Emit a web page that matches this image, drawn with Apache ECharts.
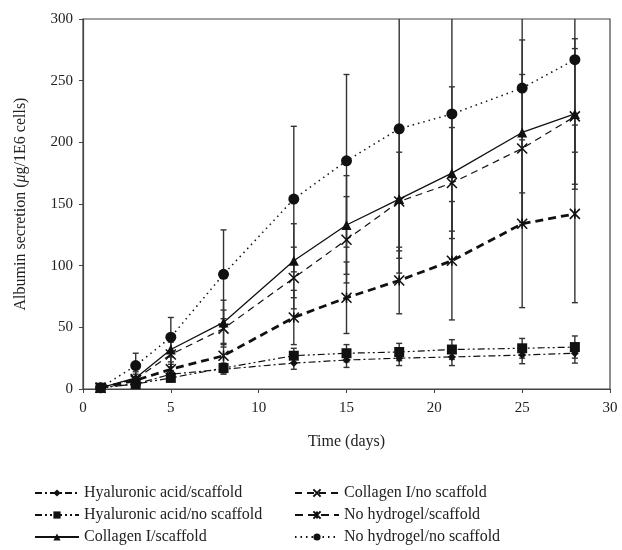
<!DOCTYPE html>
<html>
<head>
<meta charset="utf-8">
<script src="https://cdn.jsdelivr.net/npm/echarts@6.0.0/dist/echarts.min.js"></script>
<style>
  html, body { margin: 0; padding: 0; background: #fff; }
  #chart { width: 622px; height: 550px; }
</style>
</head>
<body>
<div id="chart"></div>
<script>
// days sampled
const days = [1, 3, 5, 8, 12, 15, 18, 21, 25, 28];

// albumin secretion (µg/1E6 cells)
const haScaffold      = [1, 4, 12, 16, 21, 23.5, 25, 26, 27.5, 29];
const haNoScaffold    = [1, 4, 9, 17, 27, 29, 30, 32, 33, 34];
const colScaffold     = [1, 9, 32, 54, 104, 133, 154, 175, 208, 223];
const colNoScaffold   = [1, 8, 28, 49, 90, 121, 152, 167, 195, 221];
const noHydScaffold   = [1, 7, 16, 27, 58, 74, 88, 104, 134, 142];
const noHydNoScaffold = [1, 19, 42, 93, 154, 185, 211, 223, 244, 267];

// error bar half-widths (estimated)
const haScaffoldErr      = [1, 2, 3, 4, 5, 6, 6, 7, 7, 8];
const haNoScaffoldErr    = [1, 2, 3, 4, 6, 7, 7, 8, 8, 9];
const colScaffoldErr     = [1, 5, 12, 18, 30, 40, 60, 70, 75, 61];
const colNoScaffoldErr   = [1, 4, 10, 15, 25, 35, 40, 45, 60, 55];
const noHydScaffoldErr   = [1, 3, 6, 10, 22, 29, 27, 48, 68, 72];
const noHydNoScaffoldErr = [1, 10, 16, 36, 59, 70, 105, 95, 85, 75];

const xTicks = [0, 5, 10, 15, 20, 25, 30];

const FONT = 'Liberation Serif';
const INK = '#111';

const xSym = 'path://M0,0L10,10M10,0L0,10';
const starSym = 'path://M0,0L10,10M10,0L0,10M5,0L5,10';

const seriesDefs = [
  { name: 'Hyaluronic acid/scaffold', y: haScaffold, err: haScaffoldErr,
    symbol: 'diamond', size: 8, dash: [7, 3, 2, 3], width: 1.2 },
  { name: 'Hyaluronic acid/no scaffold', y: haNoScaffold, err: haNoScaffoldErr,
    symbol: 'rect', size: 10, dash: [7, 3, 2, 3, 2, 3], width: 1.2 },
  { name: 'Collagen I/scaffold', y: colScaffold, err: colScaffoldErr,
    symbol: 'triangle', size: 10, dash: 'solid', width: 1.3 },
  { name: 'Collagen I/no scaffold', y: colNoScaffold, err: colNoScaffoldErr,
    symbol: xSym, size: 10, dash: [7, 5], width: 1.2, stroke: true },
  { name: 'No hydrogel/scaffold', y: noHydScaffold, err: noHydScaffoldErr,
    symbol: starSym, size: 10, dash: [8, 5], width: 2.8, stroke: true },
  { name: 'No hydrogel/no scaffold', y: noHydNoScaffold, err: noHydNoScaffoldErr,
    symbol: 'circle', size: 11, dash: [1.5, 4], width: 1.5 }
];

function renderErr(params, api) {
  const x = api.value(0);
  const top = api.coord([x, api.value(2)]);
  const bot = api.coord([x, api.value(1)]);
  const w = 3;
  const st = { stroke: '#333', lineWidth: 1.4 };
  return {
    type: 'group',
    children: [
      { type: 'line', shape: { x1: top[0], y1: top[1], x2: bot[0], y2: bot[1] }, style: st },
      { type: 'line', shape: { x1: top[0] - w, y1: top[1], x2: top[0] + w, y2: top[1] }, style: st },
      { type: 'line', shape: { x1: bot[0] - w, y1: bot[1], x2: bot[0] + w, y2: bot[1] }, style: st }
    ]
  };
}

const series = [];
seriesDefs.forEach(d => {
  series.push({
    type: 'custom',
    renderItem: renderErr,
    clip: true,
    silent: true,
    z: 1,
    encode: { x: 0, y: [1, 2] },
    data: days.map((x, i) => [x, d.y[i] - d.err[i], d.y[i] + d.err[i]])
  });
});
seriesDefs.forEach(d => {
  series.push({
    name: d.name,
    type: 'line',
    z: 3,
    data: days.map((x, i) => [x, d.y[i]]),
    symbol: d.symbol,
    symbolSize: d.size,
    showAllSymbol: true,
    lineStyle: { color: INK, width: d.width, type: d.dash },
    itemStyle: d.stroke
      ? { color: 'rgba(0,0,0,0)', borderColor: INK, borderWidth: 1.6 }
      : { color: INK, borderColor: INK, borderWidth: 0 },
    emphasis: { disabled: true }
  });
});

const legendCommon = {
  orient: 'vertical',
  padding: 0,
  height: 70,
  itemWidth: 44,
  itemHeight: 9,
  itemGap: 6,
  textStyle: { fontFamily: FONT, fontSize: 16, color: '#222' }
};

const chart = echarts.init(document.getElementById('chart'), null, { renderer: 'canvas' });
chart.setOption({
  animation: false,
  backgroundColor: '#fff',
  grid: { left: 83, right: 12, top: 19, bottom: 161, show: true, borderColor: '#444', borderWidth: 1.2 },
  legend: [
    Object.assign({ left: 34, top: 485, data: seriesDefs.slice(0, 3).map(d => d.name) }, legendCommon),
    Object.assign({ left: 294, top: 485, data: seriesDefs.slice(3).map(d => d.name) }, legendCommon)
  ],
  xAxis: {
    type: 'value',
    min: xTicks[0],
    max: xTicks[xTicks.length - 1],
    interval: 5,
    name: 'Time (days)',
    nameLocation: 'middle',
    nameGap: 45,
    nameTextStyle: { fontFamily: FONT, fontSize: 16, color: '#222' },
    axisLine: { show: true, lineStyle: { color: '#444', width: 1.2 } },
    axisTick: { show: true, length: 4, lineStyle: { color: '#444' } },
    axisLabel: { fontFamily: FONT, fontSize: 15, color: '#222', margin: 12 },
    splitLine: { show: false }
  },
  yAxis: {
    type: 'value',
    min: 0,
    max: 300,
    interval: 50,
    name: '{a|Albumin secretion (}{i|μ}{a|g/1E6 cells)}',
    nameLocation: 'middle',
    nameGap: 54,
    nameRotate: 90,
    nameTextStyle: {
      fontFamily: FONT, fontSize: 16, color: '#222',
      rich: {
        a: { fontFamily: FONT, fontSize: 16, color: '#222' },
        i: { fontFamily: FONT, fontSize: 16, color: '#222', fontStyle: 'italic' }
      }
    },
    axisLine: { show: true, lineStyle: { color: '#444', width: 1.2 } },
    axisTick: { show: true, length: 4, lineStyle: { color: '#444' } },
    axisLabel: { fontFamily: FONT, fontSize: 15, color: '#222', margin: 10 },
    splitLine: { show: false }
  },
  series: series
});
</script>
</body>
</html>
